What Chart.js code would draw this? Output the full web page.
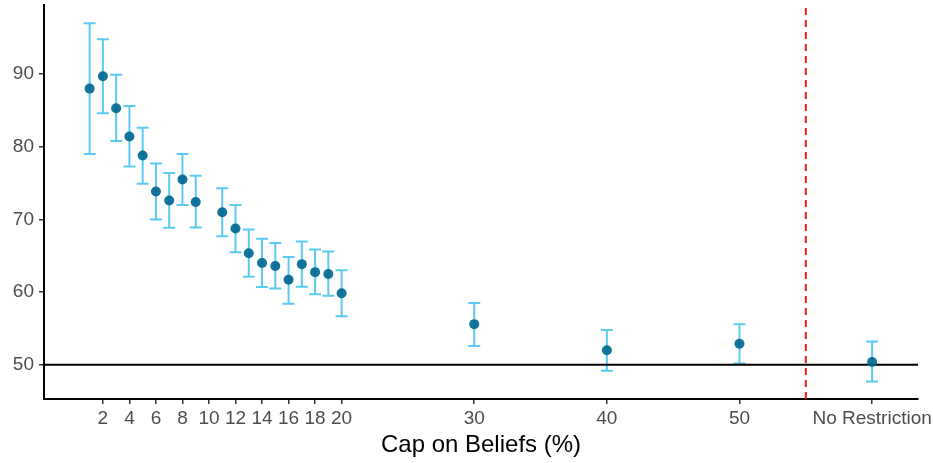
<!DOCTYPE html>
<html>
<head>
<meta charset="utf-8">
<script src="https://cdn.jsdelivr.net/npm/chart.js@4/dist/chart.umd.min.js"></script>
<style>
  html, body { margin: 0; padding: 0; background: #fff; }
  #wrap { width: 933px; height: 463px; position: relative; }
</style>
</head>
<body>
<div id="wrap"><canvas id="chart"></canvas></div>
<script>
// Belief caps (%) and estimated accuracy with 95% intervals; 60 stands for "No Restriction"
const caps  = [1, 2, 3, 4, 5, 6, 7, 8, 9, 11, 12, 13, 14, 15, 16, 17, 18, 19, 20, 30, 40, 50, 60];
const means = [88.0, 89.7, 85.3, 81.4, 78.8, 73.85, 72.6, 75.5, 72.4, 71.0, 68.75, 65.35, 64.0, 63.6, 61.7, 63.85, 62.75, 62.5, 59.85, 55.6, 52.0, 52.9, 50.4];
const lower = [79.0, 84.6, 80.8, 77.3, 74.9, 70.0, 68.85, 72.0, 68.9, 67.7, 65.5, 62.1, 60.7, 60.5, 58.4, 60.75, 59.7, 59.5, 56.7, 52.6, 49.2, 50.2, 47.7];
const upper = [97.0, 94.8, 89.9, 85.6, 82.6, 77.7, 76.4, 79.0, 76.0, 74.3, 72.0, 68.6, 67.35, 66.75, 64.85, 66.95, 65.85, 65.6, 63.0, 58.5, 54.8, 55.6, 53.2];

const xTicks = [2, 4, 6, 8, 10, 12, 14, 16, 18, 20, 30, 40, 50, 60];
const yTicks = [50, 60, 70, 80, 90];
const NO_RESTRICTION = 60;
const NO_RESTRICTION_LABEL = 'No Restriction';
const CUTOFF_X = 55;     // red dashed separator
const CHANCE_Y = 50;     // horizontal reference

const COLORS = {
  point: 'rgba(0,104,145,0.92)',
  bar:   '#5ccbf2',
  ref:   '#000',
  cut:   '#ee1c1c',
  tick:  '#4d4d4d',
};

const FONT = 'Liberation Sans, Arial, Helvetica, sans-serif';

// error bars + reference lines, drawn under the points
const overlays = {
  id: 'overlays',
  beforeDatasetsDraw(chart) {
    const { ctx, chartArea, scales: { x, y } } = chart;
    ctx.save();

    ctx.strokeStyle = COLORS.bar;
    ctx.lineWidth = 2;
    ctx.beginPath();
    caps.forEach((c, i) => {
      const px = x.getPixelForValue(c);
      const top = y.getPixelForValue(upper[i]);
      const bot = y.getPixelForValue(lower[i]);
      ctx.moveTo(px, top); ctx.lineTo(px, bot);
      ctx.moveTo(px - 6, top); ctx.lineTo(px + 6, top);
      ctx.moveTo(px - 6, bot); ctx.lineTo(px + 6, bot);
    });
    ctx.stroke();

    const hy = y.getPixelForValue(CHANCE_Y);
    ctx.strokeStyle = COLORS.ref;
    ctx.lineWidth = 2;
    ctx.beginPath();
    ctx.moveTo(chartArea.left, hy);
    ctx.lineTo(chartArea.right, hy);
    ctx.stroke();

    const vx = x.getPixelForValue(CUTOFF_X);
    ctx.strokeStyle = COLORS.cut;
    ctx.setLineDash([7, 5]);
    ctx.beginPath();
    ctx.moveTo(vx, chartArea.top + 3);
    ctx.lineTo(vx, chartArea.bottom);
    ctx.stroke();

    ctx.restore();
  }
};

new Chart(document.getElementById('chart'), {
  type: 'scatter',
  data: {
    datasets: [{
      data: caps.map((c, i) => ({ x: c, y: means[i] })),
      pointRadius: 5,
      pointHoverRadius: 5,
      pointBackgroundColor: COLORS.point,
      pointBorderWidth: 0,
    }]
  },
  options: {
    responsive: true,
    maintainAspectRatio: false,
    animation: false,
    layout: { padding: { left: 0, right: 15, top: 2, bottom: 0 } },
    plugins: {
      legend: { display: false },
      tooltip: { enabled: false },
    },
    scales: {
      x: {
        type: 'linear',
        min: -2.44,
        max: 63.46,
        afterBuildTicks: s => { s.ticks = xTicks.map(v => ({ value: v })); },
        afterFit: s => { s.height = 64; s.paddingLeft = 0; s.paddingRight = 0; },
        border: { color: '#000', width: 2 },
        grid: { drawOnChartArea: false, tickLength: 5, color: '#333', lineWidth: 1.5 },
        ticks: {
          color: COLORS.tick,
          font: { family: FONT, size: 19 },
          padding: 3,
          maxRotation: 0,
          autoSkip: false,
          callback: v => v === NO_RESTRICTION ? NO_RESTRICTION_LABEL : v,
        },
        title: {
          display: true,
          text: 'Cap on Beliefs (%)',
          color: '#000',
          font: { family: FONT, size: 24 },
          padding: { top: 0, bottom: 3 },
        },
      },
      y: {
        min: 45.3,
        max: 99.5,
        afterBuildTicks: s => { s.ticks = yTicks.map(v => ({ value: v })); },
        afterFit: s => { s.width = 44; s.paddingTop = 0; s.paddingBottom = 0; },
        border: { color: '#000', width: 2 },
        grid: { drawOnChartArea: false, tickLength: 5, color: '#333', lineWidth: 1.5 },
        ticks: {
          color: COLORS.tick,
          font: { family: FONT, size: 19 },
          padding: 5,
        },
      },
    },
  },
  plugins: [overlays],
});
</script>
</body>
</html>
